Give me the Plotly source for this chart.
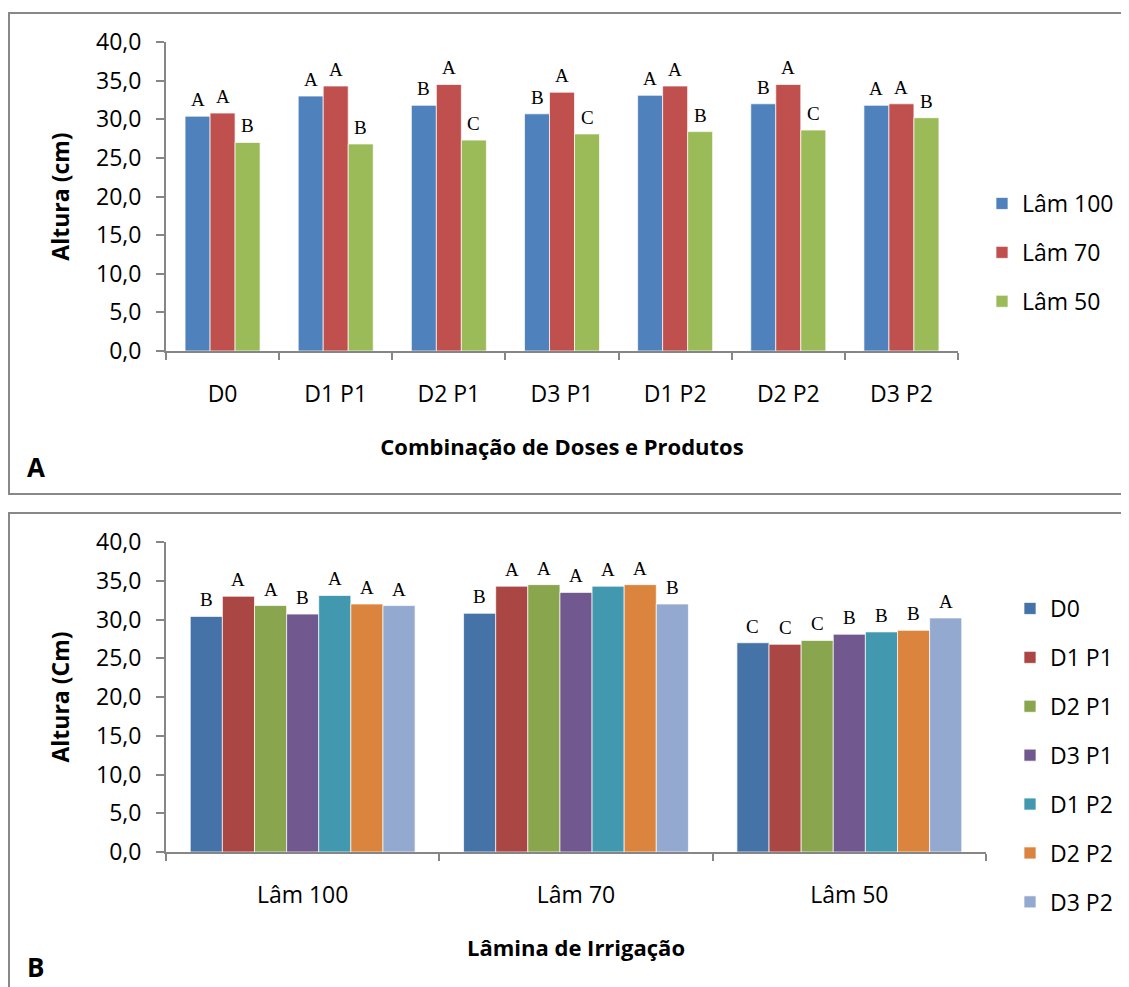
import plotly.graph_objects as go

# panel A: doses/products on the x axis, one series per irrigation depth
combos = ["D0", "D1 P1", "D2 P1", "D3 P1", "D1 P2", "D2 P2", "D3 P2"]
laminas = ["Lâm 100", "Lâm 70", "Lâm 50"]

lam100 = [30.4, 33.0, 31.8, 30.7, 33.1, 32.0, 31.8]
lam70 = [30.8, 34.3, 34.5, 33.5, 34.3, 34.5, 32.0]
lam50 = [27.0, 26.8, 27.3, 28.1, 28.4, 28.6, 30.2]

letters_lam100 = ["A", "A", "B", "B", "A", "B", "A"]
letters_lam70 = ["A", "A", "A", "A", "A", "A", "A"]
letters_lam50 = ["B", "B", "C", "C", "B", "C", "B"]

# panel B: irrigation depth on the x axis, one series per dose/product
letters_b = {
    "D0": ["B", "B", "C"],
    "D1 P1": ["A", "A", "C"],
    "D2 P1": ["A", "A", "C"],
    "D3 P1": ["B", "A", "B"],
    "D1 P2": ["A", "A", "B"],
    "D2 P2": ["A", "A", "B"],
    "D3 P2": ["A", "B", "A"],
}

colors_a = ["#4F81BD", "#C0504D", "#9BBB59"]
colors_b = ["#4572A7", "#AA4643", "#89A54E", "#71588F", "#4198AF", "#DB843D", "#93A9CF"]

W, H = 1129, 987
PAGE_OFF = 8  # the page body margin shifts the figure by this much
SANS = "Open Sans"
SERIF = "Liberation Serif"
AXIS_GRAY = "#868686"


def fx(px):
    return (px - PAGE_OFF) / W


def fy(py):
    return 1 - (py - PAGE_OFF) / H


fig = go.Figure()


def add_letters(values, letters, offset, width, xref, yref):
    # significance letters sit a little above each bar top
    for k, (val, let) in enumerate(zip(values, letters)):
        fig.add_annotation(
            x=k + offset + width / 2,
            y=val,
            xref=xref,
            yref=yref,
            text=let,
            showarrow=False,
            yanchor="bottom",
            yshift=4,
            font={"family": SERIF, "size": 19, "color": "black"},
        )


series_a = [lam100, lam70, lam50]
letters_a = [letters_lam100, letters_lam70, letters_lam50]
width_a = 0.221
for i, (name, vals, lets) in enumerate(zip(laminas, series_a, letters_a)):
    off = -1.5 * width_a + i * width_a
    fig.add_trace(
        go.Bar(
            x=combos,
            y=vals,
            name=name,
            width=width_a,
            offset=off,
            marker={"color": colors_a[i], "line": {"color": "rgba(255,255,255,0.7)", "width": 1}},
            legend="legend",
            legendgroup=name,
            xaxis="x",
            yaxis="y",
            hoverinfo="skip",
        )
    )
    add_letters(vals, lets, off, width_a, "x", "y")

width_b = 0.1175
for j, combo in enumerate(combos):
    vals = [lam100[j], lam70[j], lam50[j]]
    off = -3.5 * width_b + j * width_b
    fig.add_trace(
        go.Bar(
            x=laminas,
            y=vals,
            name=combo,
            width=width_b,
            offset=off,
            marker={"color": colors_b[j], "line": {"color": "rgba(255,255,255,0.7)", "width": 1}},
            legend="legend2",
            legendgroup="b" + combo,
            xaxis="x2",
            yaxis="y2",
            hoverinfo="skip",
        )
    )
    add_letters(vals, letters_b[combo], off, width_b, "x2", "y2")

xaxis_common = {
    "type": "category",
    "automargin": False,
    "showline": True,
    "linecolor": AXIS_GRAY,
    "linewidth": 2,
    "ticks": "outside",
    "tickson": "boundaries",
    "ticklen": 7,
    "tickcolor": AXIS_GRAY,
    "tickwidth": 1.5,
    "showgrid": False,
    "zeroline": False,
    "tickfont": {"family": SANS, "size": 23, "color": "black"},
    "ticklabelstandoff": 21,
}
yaxis_common = {
    "range": [0, 40],
    "dtick": 5,
    "tickformat": ".1f",
    "automargin": False,
    "showline": True,
    "linecolor": AXIS_GRAY,
    "linewidth": 2,
    "ticks": "outside",
    "ticklen": 8,
    "tickcolor": AXIS_GRAY,
    "tickwidth": 1.5,
    "showgrid": False,
    "zeroline": False,
    "tickfont": {"family": SANS, "size": 23, "color": "black"},
    "ticklabelstandoff": 10,
}

legend_common = {
    "xanchor": "left",
    "yanchor": "top",
    "font": {"family": SANS, "size": 23, "color": "black"},
    "bgcolor": "rgba(0,0,0,0)",
}

fig.update_layout(
    width=W,
    height=H,
    margin={"l": 0, "r": 0, "t": 0, "b": 0, "autoexpand": False},
    paper_bgcolor="white",
    plot_bgcolor="white",
    separators=",.",
    barmode="group",
    font={"family": SANS, "color": "black"},
    xaxis={
        **xaxis_common,
        "domain": [fx(166), fx(958)],
        "anchor": "y",
        "range": [-0.5, 6.5],
        "title": {
            "text": "<b>Combinação de Doses e Produtos</b>",
            "font": {"family": SANS, "size": 22, "color": "black"},
            "standoff": 32,
        },
    },
    yaxis={
        **yaxis_common,
        "domain": [fy(351), fy(42)],
        "anchor": "x",
        "title": {
            "text": "<b>Altura (cm)</b>",
            "font": {"family": SANS, "size": 23, "color": "black"},
            "standoff": 20,
        },
    },
    xaxis2={
        **xaxis_common,
        "domain": [fx(166), fx(986)],
        "anchor": "y2",
        "range": [-0.5, 2.5],
        "title": {
            "text": "<b>Lâmina de Irrigação</b>",
            "font": {"family": SANS, "size": 22, "color": "black"},
            "standoff": 32,
        },
    },
    yaxis2={
        **yaxis_common,
        "domain": [fy(852), fy(542)],
        "anchor": "x2",
        "title": {
            "text": "<b>Altura (Cm)</b>",
            "font": {"family": SANS, "size": 23, "color": "black"},
            "standoff": 20,
        },
    },
    legend={**legend_common, "x": fx(982), "y": fy(182), "tracegroupgap": 16},
    legend2={**legend_common, "x": fx(1010), "y": fy(587), "tracegroupgap": 16},
    showlegend=True,
)

# panel frames
fig.add_shape(type="rect", xref="paper", yref="paper",
              x0=fx(9), x1=1.02, y0=fy(494), y1=fy(13),
              line={"color": "#888888", "width": 2}, layer="below")
fig.add_shape(type="rect", xref="paper", yref="paper",
              x0=fx(9), x1=1.02, y0=-0.02, y1=fy(513),
              line={"color": "#888888", "width": 2}, layer="below")

# panel letters
for label, py in [("A", 467), ("B", 967)]:
    fig.add_annotation(
        text=f"<b>{label}</b>",
        xref="paper", yref="paper",
        x=fx(25), y=fy(py),
        xanchor="left", yanchor="middle",
        showarrow=False,
        font={"family": SANS, "size": 26, "color": "black"},
    )

fig.write_html("out.html")
